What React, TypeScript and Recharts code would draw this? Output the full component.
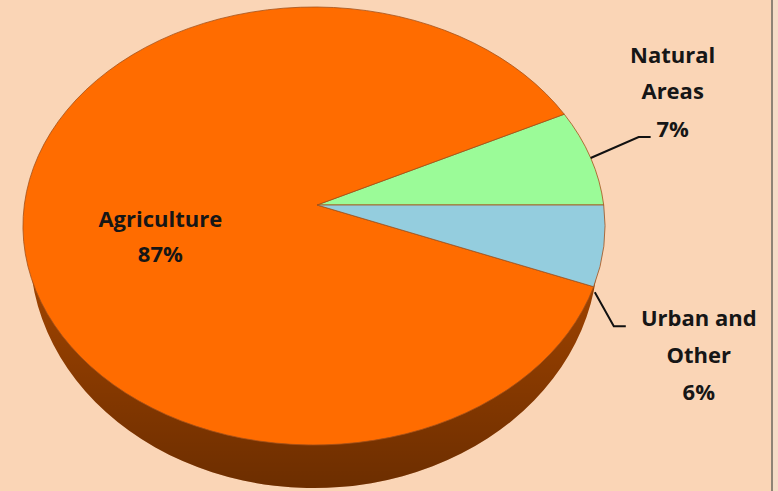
import React from 'react';
import { PieChart, Pie } from 'recharts';

// land use shares (%), drawn counter-clockwise from 3 o'clock
const categories = ['Natural Areas', 'Agriculture', 'Urban and Other'];
const shares = [7, 87, 6];
const labelLines = [['Natural', 'Areas'], ['Agriculture'], ['Urban and', 'Other']];

const topColors = ['#9BFB98', '#FF6C00', '#94CDDE'];
const sideColors = ['#4f9a4f', '#9a4100', '#4d8a9a'];

const data = categories.map((name, i) => ({ name, value: shares[i] }));

const RAD = Math.PI / 180;
// perspective fudge: the rim is an ellipse whose centre sits below the apex
const TILT = 5.5;
const WALL_TILT = 15;

const topEllipse = (cx: number, cy: number, r: number) => ({ ex: cx - 3, ey: cy + 21, rx: r * 1.329, ry: r });
const bottomEllipse = (cx: number, cy: number, r: number) => ({ ex: cx - 3, ey: cy + 45, rx: r * 1.297, ry: r * 1.087 });

const rim = (e: any, angle: number, tilt = TILT) => {
  const a = (angle + tilt) * RAD;
  return [e.ex + e.rx * Math.cos(a), e.ey - e.ry * Math.sin(a)];
};

const slicePath = (e: any, ax: number, ay: number, start: number, end: number, tilt = TILT) => {
  const [x0, y0] = rim(e, start, tilt);
  const [x1, y1] = rim(e, end, tilt);
  const large = Math.abs(end - start) > 180 ? 1 : 0;
  return `M${ax},${ay} L${x0},${y0} A${e.rx},${e.ry} 0 ${large} 0 ${x1},${y1} Z`;
};

const TopSlice = (props: any) => {
  const { cx, cy, outerRadius, startAngle, endAngle, index } = props;
  const e = topEllipse(cx, cy, outerRadius);
  return (
    <path
      d={slicePath(e, cx, cy, startAngle, endAngle)}
      fill={topColors[index]}
      stroke="#a5521a"
      strokeWidth={0.8}
    />
  );
};

const SideSlice = (props: any) => {
  const { cx, cy, outerRadius, startAngle, endAngle, index } = props;
  const e = bottomEllipse(cx, cy, outerRadius);
  const d = slicePath(e, cx, cy + 24, startAngle, endAngle, WALL_TILT);
  return (
    <g>
      <defs>
        <linearGradient id="wallShade" gradientUnits="userSpaceOnUse" x1="0" y1="300" x2="0" y2="490">
          <stop offset="0%" stopColor="#000" stopOpacity={0} />
          <stop offset="100%" stopColor="#000" stopOpacity={0.3} />
        </linearGradient>
      </defs>
      <path d={d} fill={sideColors[index]} />
      <path d={d} fill="url(#wallShade)" />
    </g>
  );
};

// label placement, offsets from the rim point at the slice's mid angle
const labelLayout: Record<string, any> = {
  'Natural Areas': { dx: 82, dy: [-95, -59, -21], leader: [[0, 0], [48, -21], [60, -21]] },
  Agriculture: { dx: 135, dy: [-27, 8], leader: null },
  'Urban and Other': { dx: 95, dy: [80, 117, 154], leader: [[-9, 46], [10, 80], [22, 80]] },
};

const renderLabel = (props: any) => {
  const { cx, cy, outerRadius, midAngle, index, percent } = props;
  const name = categories[index];
  const lay = labelLayout[name];
  const [rx, ry] = rim(topEllipse(cx, cy, outerRadius), midAngle);
  const lines = [...labelLines[index], `${Math.round(percent * 100)}%`];
  return (
    <g key={name}>
      {lay.leader && (
        <polyline
          points={lay.leader.map(([x, y]: number[]) => `${rx + x},${ry + y}`).join(' ')}
          fill="none"
          stroke="#111"
          strokeWidth={2}
        />
      )}
      {lines.map((t, i) => (
        <text
          key={i}
          x={rx + lay.dx}
          y={ry + lay.dy[i]}
          textAnchor="middle"
          fontFamily="'Open Sans', sans-serif"
          fontWeight={700}
          fontSize={22}
          fill="#161616"
        >
          {t}
        </text>
      ))}
    </g>
  );
};

export default function App() {
  return (
    <div style={{ position: 'absolute', left: 0, top: 0, width: 778, height: 491, background: '#FAD5B6', overflow: 'hidden' }}>
      <PieChart width={771} height={491} margin={{ top: 0, right: 0, bottom: 0, left: 0 }}>
        <Pie
          data={data}
          dataKey="value"
          nameKey="name"
          cx={317}
          cy={205}
          outerRadius={219}
          startAngle={0}
          endAngle={360}
          stroke="none"
          shape={SideSlice}
          inactiveShape={SideSlice}
          activeShape={SideSlice}
          isAnimationActive={false}
        />
        <Pie
          data={data}
          dataKey="value"
          nameKey="name"
          cx={317}
          cy={205}
          outerRadius={219}
          startAngle={0}
          endAngle={360}
          shape={TopSlice}
          inactiveShape={TopSlice}
          activeShape={TopSlice}
          label={renderLabel}
          labelLine={false}
          isAnimationActive={false}
        />
      </PieChart>
      <div style={{ position: 'absolute', left: 771, top: 0, width: 2, height: 491, background: '#8f8475' }} />
      <div style={{ position: 'absolute', left: 773, top: 0, width: 5, height: 491, background: '#f6dcc6' }} />
    </div>
  );
}
